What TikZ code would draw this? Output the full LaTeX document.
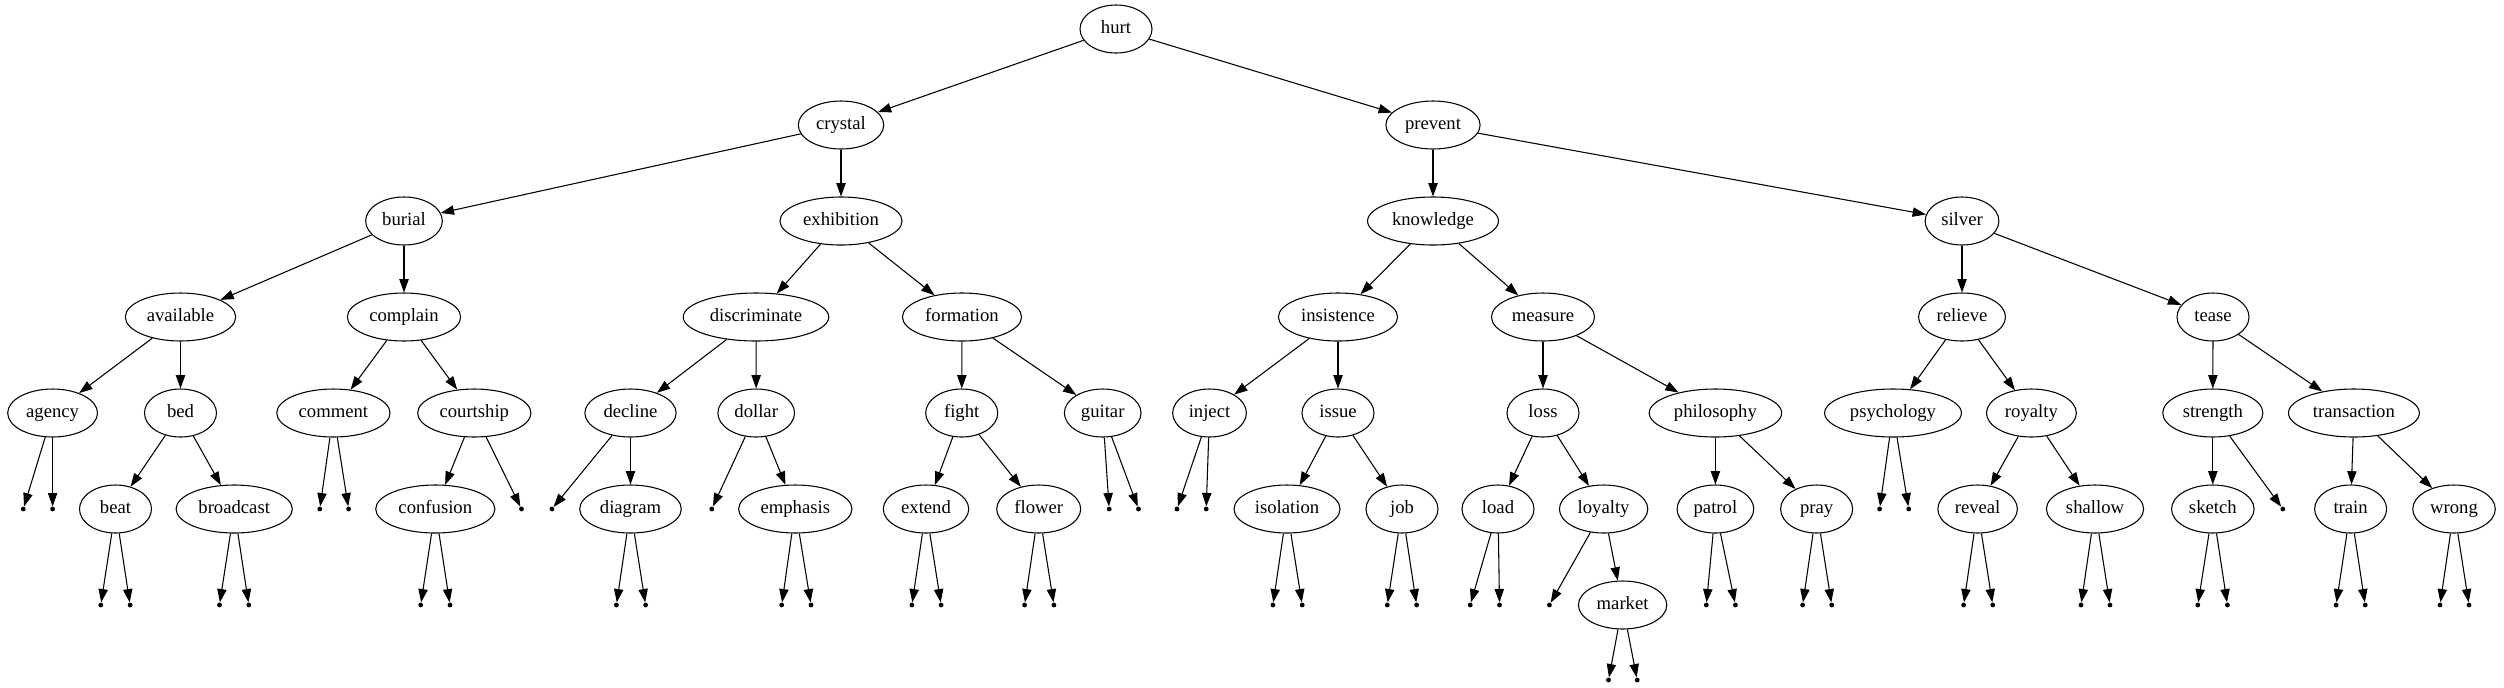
\documentclass[tikz,border=0pt]{standalone}
\usepackage{fontspec}
\setmainfont{Liberation Serif}
\usetikzlibrary{shapes.geometric,arrows.meta}

\begin{document}
\begin{tikzpicture}[x=0.75pt,y=-0.75pt,
  word/.style={draw, ellipse, line width=0.8pt, minimum width=54pt, minimum height=36pt,
    inner xsep=4pt, inner ysep=2pt, font=\fontsize{14pt}{16pt}\selectfont,
    text height=9.5pt, text depth=3pt},
  nil/.style={circle, fill=black, minimum size=3.6pt, inner sep=0pt},
  edge/.style={line width=0.8pt, -{Triangle[length=10pt,width=7pt]}}]
  \useasboundingbox (0,0) rectangle (2504,687);

  % Root and upper levels
  \node[word] (hurt) at (1116,29) {hurt};
  \node[word] (crystal) at (841,125) {crystal};
  \node[word] (prevent) at (1433,125) {prevent};
  \node[word] (burial) at (404,221) {burial};
  \node[word] (exhibition) at (841,221) {exhibition};
  \node[word] (knowledge) at (1433,221) {knowledge};
  \node[word] (silver) at (1962,221) {silver};

  % Third level
  \node[word] (available) at (180.5,317) {available};
  \node[word] (complain) at (404,317) {complain};
  \node[word] (discriminate) at (756,317) {discriminate};
  \node[word] (formation) at (962,317) {formation};
  \node[word] (insistence) at (1338,317) {insistence};
  \node[word] (measure) at (1543,317) {measure};
  \node[word] (relieve) at (1962,317) {relieve};
  \node[word] (tease) at (2213,317) {tease};

  % Fourth level
  \node[word] (agency) at (52.6,413) {agency};
  \node[word] (bed) at (180.5,413) {bed};
  \node[word] (comment) at (333.4,413) {comment};
  \node[word] (courtship) at (474.3,413) {courtship};
  \node[word] (decline) at (630.5,413) {decline};
  \node[word] (dollar) at (756.2,413) {dollar};
  \node[word] (fight) at (961.7,413) {fight};
  \node[word] (guitar) at (1102.7,413) {guitar};
  \node[word] (inject) at (1209.5,413) {inject};
  \node[word] (issue) at (1338,413) {issue};
  \node[word] (loss) at (1543,413) {loss};
  \node[word] (philosophy) at (1715.4,413) {philosophy};
  \node[word] (psychology) at (1893,413) {psychology};
  \node[word] (royalty) at (2031.4,413) {royalty};
  \node[word] (strength) at (2212.8,413) {strength};
  \node[word] (transaction) at (2353.9,413) {transaction};

  % Fifth level
  \node[word] (beat) at (115.5,509) {beat};
  \node[word] (broadcast) at (234.2,509) {broadcast};
  \node[word] (confusion) at (435.3,509) {confusion};
  \node[word] (diagram) at (630.5,509) {diagram};
  \node[word] (emphasis) at (795.3,509) {emphasis};
  \node[word] (extend) at (926,509) {extend};
  \node[word] (flower) at (1038.7,509) {flower};
  \node[word] (isolation) at (1287,509) {isolation};
  \node[word] (job) at (1402,509) {job};
  \node[word] (load) at (1498,509) {load};
  \node[word] (loyalty) at (1603.6,509) {loyalty};
  \node[word] (patrol) at (1715.4,509) {patrol};
  \node[word] (pray) at (1816.6,509) {pray};
  \node[word] (reveal) at (1977.6,509) {reveal};
  \node[word] (shallow) at (2095,509) {shallow};
  \node[word] (sketch) at (2212.8,509) {sketch};
  \node[word] (train) at (2350.6,509) {train};
  \node[word] (wrong) at (2454,509) {wrong};
  \node[word] (market) at (1622.6,605) {market};

  % Tree edges
  \foreach \u/\v in {hurt/crystal, hurt/prevent, crystal/burial, crystal/exhibition,
      prevent/knowledge, prevent/silver, burial/available, burial/complain,
      exhibition/discriminate, exhibition/formation, knowledge/insistence, knowledge/measure,
      silver/relieve, silver/tease, available/agency, available/bed, complain/comment,
      complain/courtship, discriminate/decline, discriminate/dollar, formation/fight,
      formation/guitar, insistence/inject, insistence/issue, measure/loss,
      measure/philosophy, relieve/psychology, relieve/royalty, tease/strength,
      tease/transaction, bed/beat, bed/broadcast, courtship/confusion, decline/diagram,
      dollar/emphasis, fight/extend, fight/flower, issue/isolation, issue/job,
      loss/load, loss/loyalty, philosophy/patrol, philosophy/pray, royalty/reveal,
      royalty/shallow, strength/sketch, transaction/train, transaction/wrong,
      loyalty/market}
    \draw[edge] (\u) -- (\v);

  % Empty children, in pairs
  \foreach \p/\a/\b/\y in {agency/23.3/52.6/509, comment/319.8/348.6/509,
      guitar/1109.2/1138.5/509, inject/1177/1206.2/509, psychology/1879.6/1908.7/509,
      beat/100.8/130.1/605, broadcast/219.5/248.8/605, confusion/420.7/450/605,
      diagram/616.4/645.6/605, emphasis/781.7/811/605, extend/911.9/941.1/605,
      flower/1024.6/1053.9/605, isolation/1272.9/1302.2/605, job/1387.3/1416.6/605,
      load/1470.2/1499.5/605, patrol/1706.3/1735.4/605, pray/1802.6/1831.7/605,
      reveal/1963.6/1992.7/605, shallow/2081/2110/605, sketch/2197.8/2227.4/605,
      train/2336.1/2365.2/605, wrong/2440/2469/605, market/1608.5/1637.2/680} {
    \node[nil] (\p-l) at (\a,\y) {};
    \node[nil] (\p-r) at (\b,\y) {};
    \draw[edge] (\p) -- (\p-l);
    \draw[edge] (\p) -- (\p-r);
  }

  % Empty children, single
  \foreach \p/\s/\x/\y in {courtship/r/521.5/509, decline/l/551.9/509,
      dollar/l/711.8/509, strength/r/2282.8/509, loyalty/l/1549.4/605} {
    \node[nil] (\p-\s) at (\x,\y) {};
    \draw[edge] (\p) -- (\p-\s);
  }
\end{tikzpicture}
\end{document}
